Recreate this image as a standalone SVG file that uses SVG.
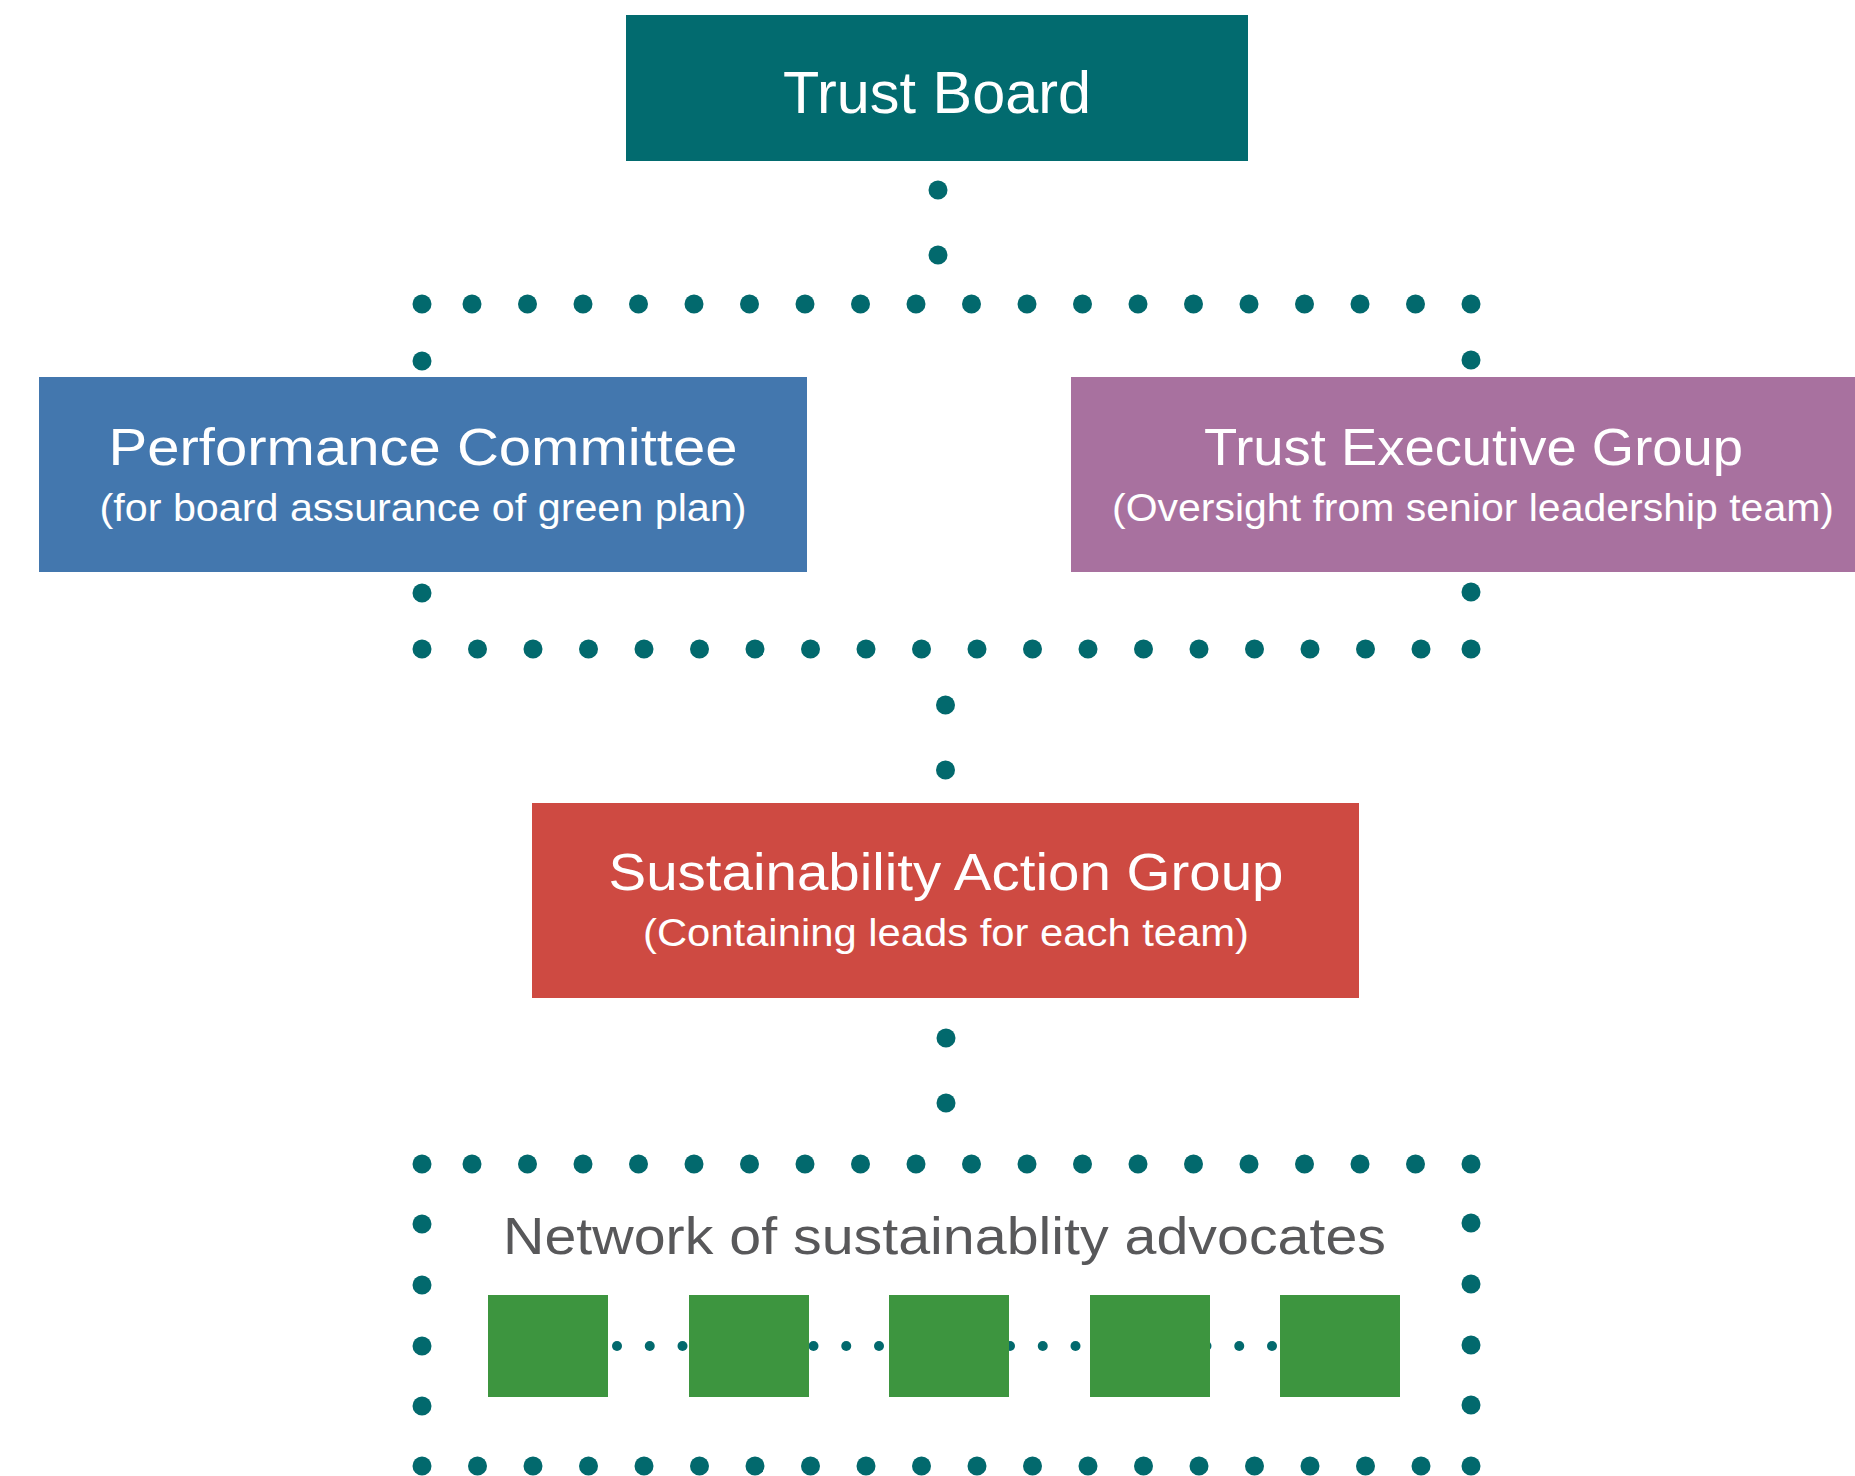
<svg xmlns="http://www.w3.org/2000/svg" width="1855" height="1476" viewBox="0 0 1855 1476">
<style>
.dot{fill:#02696d}
.sdot{fill:#02696d}
.t{font-family:"Liberation Sans",Arial,sans-serif;fill:#ffffff;text-anchor:middle}
.h{font-size:52px}
.s{font-size:38px}
.adv{fill:#3d953f}
</style>
<rect width="1855" height="1476" fill="#ffffff"/>
<g id="connectors">
<circle class="dot" cx="938" cy="190" r="9.5"/>
<circle class="dot" cx="938" cy="255" r="9.5"/>
<circle class="dot" cx="422" cy="304" r="9.5"/>
<circle class="dot" cx="472" cy="304" r="9.5"/><circle class="dot" cx="527.5" cy="304" r="9.5"/><circle class="dot" cx="583" cy="304" r="9.5"/><circle class="dot" cx="638.5" cy="304" r="9.5"/><circle class="dot" cx="694" cy="304" r="9.5"/><circle class="dot" cx="749.5" cy="304" r="9.5"/><circle class="dot" cx="805" cy="304" r="9.5"/><circle class="dot" cx="860.5" cy="304" r="9.5"/><circle class="dot" cx="916" cy="304" r="9.5"/><circle class="dot" cx="971.5" cy="304" r="9.5"/><circle class="dot" cx="1027" cy="304" r="9.5"/><circle class="dot" cx="1082.5" cy="304" r="9.5"/><circle class="dot" cx="1138" cy="304" r="9.5"/><circle class="dot" cx="1193.5" cy="304" r="9.5"/><circle class="dot" cx="1249" cy="304" r="9.5"/><circle class="dot" cx="1304.5" cy="304" r="9.5"/><circle class="dot" cx="1360" cy="304" r="9.5"/><circle class="dot" cx="1415.5" cy="304" r="9.5"/><circle class="dot" cx="1471" cy="304" r="9.5"/>
<circle class="dot" cx="422" cy="361" r="9.5"/>
<circle class="dot" cx="1471" cy="360" r="9.5"/>
<circle class="dot" cx="422" cy="593" r="9.5"/>
<circle class="dot" cx="1471" cy="592" r="9.5"/>
<circle class="dot" cx="422" cy="649" r="9.5"/><circle class="dot" cx="477.5" cy="649" r="9.5"/><circle class="dot" cx="533" cy="649" r="9.5"/><circle class="dot" cx="588.5" cy="649" r="9.5"/><circle class="dot" cx="644" cy="649" r="9.5"/><circle class="dot" cx="699.5" cy="649" r="9.5"/><circle class="dot" cx="755" cy="649" r="9.5"/><circle class="dot" cx="810.5" cy="649" r="9.5"/><circle class="dot" cx="866" cy="649" r="9.5"/><circle class="dot" cx="921.5" cy="649" r="9.5"/><circle class="dot" cx="977" cy="649" r="9.5"/><circle class="dot" cx="1032.5" cy="649" r="9.5"/><circle class="dot" cx="1088" cy="649" r="9.5"/><circle class="dot" cx="1143.5" cy="649" r="9.5"/><circle class="dot" cx="1199" cy="649" r="9.5"/><circle class="dot" cx="1254.5" cy="649" r="9.5"/><circle class="dot" cx="1310" cy="649" r="9.5"/><circle class="dot" cx="1365.5" cy="649" r="9.5"/><circle class="dot" cx="1421" cy="649" r="9.5"/><circle class="dot" cx="1471" cy="649" r="9.5"/>
<circle class="dot" cx="945.5" cy="705" r="9.5"/>
<circle class="dot" cx="945.5" cy="770" r="9.5"/>
<circle class="dot" cx="946" cy="1038" r="9.5"/>
<circle class="dot" cx="946" cy="1103" r="9.5"/>
<circle class="dot" cx="422" cy="1164" r="9.5"/>
<circle class="dot" cx="472" cy="1164" r="9.5"/><circle class="dot" cx="527.5" cy="1164" r="9.5"/><circle class="dot" cx="583" cy="1164" r="9.5"/><circle class="dot" cx="638.5" cy="1164" r="9.5"/><circle class="dot" cx="694" cy="1164" r="9.5"/><circle class="dot" cx="749.5" cy="1164" r="9.5"/><circle class="dot" cx="805" cy="1164" r="9.5"/><circle class="dot" cx="860.5" cy="1164" r="9.5"/><circle class="dot" cx="916" cy="1164" r="9.5"/><circle class="dot" cx="971.5" cy="1164" r="9.5"/><circle class="dot" cx="1027" cy="1164" r="9.5"/><circle class="dot" cx="1082.5" cy="1164" r="9.5"/><circle class="dot" cx="1138" cy="1164" r="9.5"/><circle class="dot" cx="1193.5" cy="1164" r="9.5"/><circle class="dot" cx="1249" cy="1164" r="9.5"/><circle class="dot" cx="1304.5" cy="1164" r="9.5"/><circle class="dot" cx="1360" cy="1164" r="9.5"/><circle class="dot" cx="1415.5" cy="1164" r="9.5"/><circle class="dot" cx="1471" cy="1164" r="9.5"/>
<circle class="dot" cx="422" cy="1224" r="9.5"/><circle class="dot" cx="422" cy="1285" r="9.5"/><circle class="dot" cx="422" cy="1346" r="9.5"/><circle class="dot" cx="422" cy="1406" r="9.5"/>
<circle class="dot" cx="1471" cy="1223" r="9.5"/><circle class="dot" cx="1471" cy="1284" r="9.5"/><circle class="dot" cx="1471" cy="1345" r="9.5"/><circle class="dot" cx="1471" cy="1405" r="9.5"/>
<circle class="dot" cx="422" cy="1466" r="9.5"/><circle class="dot" cx="477.5" cy="1466" r="9.5"/><circle class="dot" cx="533" cy="1466" r="9.5"/><circle class="dot" cx="588.5" cy="1466" r="9.5"/><circle class="dot" cx="644" cy="1466" r="9.5"/><circle class="dot" cx="699.5" cy="1466" r="9.5"/><circle class="dot" cx="755" cy="1466" r="9.5"/><circle class="dot" cx="810.5" cy="1466" r="9.5"/><circle class="dot" cx="866" cy="1466" r="9.5"/><circle class="dot" cx="921.5" cy="1466" r="9.5"/><circle class="dot" cx="977" cy="1466" r="9.5"/><circle class="dot" cx="1032.5" cy="1466" r="9.5"/><circle class="dot" cx="1088" cy="1466" r="9.5"/><circle class="dot" cx="1143.5" cy="1466" r="9.5"/><circle class="dot" cx="1199" cy="1466" r="9.5"/><circle class="dot" cx="1254.5" cy="1466" r="9.5"/><circle class="dot" cx="1310" cy="1466" r="9.5"/><circle class="dot" cx="1365.5" cy="1466" r="9.5"/><circle class="dot" cx="1421" cy="1466" r="9.5"/><circle class="dot" cx="1471" cy="1466" r="9.5"/>
<circle class="sdot" cx="617" cy="1346" r="5"/><circle class="sdot" cx="649.75" cy="1346" r="5"/><circle class="sdot" cx="682.5" cy="1346" r="5"/><circle class="sdot" cx="715.25" cy="1346" r="5"/><circle class="sdot" cx="748" cy="1346" r="5"/><circle class="sdot" cx="780.75" cy="1346" r="5"/><circle class="sdot" cx="813.5" cy="1346" r="5"/><circle class="sdot" cx="846.25" cy="1346" r="5"/><circle class="sdot" cx="879" cy="1346" r="5"/><circle class="sdot" cx="911.75" cy="1346" r="5"/><circle class="sdot" cx="944.5" cy="1346" r="5"/><circle class="sdot" cx="977.25" cy="1346" r="5"/><circle class="sdot" cx="1010" cy="1346" r="5"/><circle class="sdot" cx="1042.75" cy="1346" r="5"/><circle class="sdot" cx="1075.5" cy="1346" r="5"/><circle class="sdot" cx="1108.25" cy="1346" r="5"/><circle class="sdot" cx="1141" cy="1346" r="5"/><circle class="sdot" cx="1173.75" cy="1346" r="5"/><circle class="sdot" cx="1206.5" cy="1346" r="5"/><circle class="sdot" cx="1239.25" cy="1346" r="5"/><circle class="sdot" cx="1272" cy="1346" r="5"/>
</g>
<g id="trust-board">
<rect x="626" y="15" width="622" height="146" fill="#026b6f"/>
<text class="t" x="937" y="113" font-size="60" textLength="308" lengthAdjust="spacingAndGlyphs">Trust Board</text>
</g>
<g id="performance-committee">
<rect x="39" y="377" width="768" height="195" fill="#4377ae"/>
<text class="t h" x="423" y="465" textLength="629" lengthAdjust="spacingAndGlyphs">Performance Committee</text>
<text class="t s" x="423" y="521" textLength="647" lengthAdjust="spacingAndGlyphs">(for board assurance of green plan)</text>
</g>
<g id="trust-executive-group">
<rect x="1071" y="377" width="784" height="195" fill="#a8719f"/>
<text class="t h" x="1473.5" y="465" textLength="539" lengthAdjust="spacingAndGlyphs">Trust Executive Group</text>
<text class="t s" x="1473" y="521" textLength="722" lengthAdjust="spacingAndGlyphs">(Oversight from senior leadership team)</text>
</g>
<g id="sustainability-action-group">
<rect x="532" y="803" width="827" height="195" fill="#ce4a42"/>
<text class="t h" x="946" y="890" textLength="675" lengthAdjust="spacingAndGlyphs">Sustainability Action Group</text>
<text class="t s" x="946" y="946" textLength="606" lengthAdjust="spacingAndGlyphs">(Containing leads for each team)</text>
</g>
<g id="advocates-network">
<text class="t h" x="944.5" y="1254" fill="#58585a" style="fill:#58585a" textLength="883" lengthAdjust="spacingAndGlyphs">Network of sustainablity advocates</text>
<rect class="adv" x="488" y="1295" width="120" height="102"/>
<rect class="adv" x="689" y="1295" width="120" height="102"/>
<rect class="adv" x="889" y="1295" width="120" height="102"/>
<rect class="adv" x="1090" y="1295" width="120" height="102"/>
<rect class="adv" x="1280" y="1295" width="120" height="102"/>
</g>
</svg>
